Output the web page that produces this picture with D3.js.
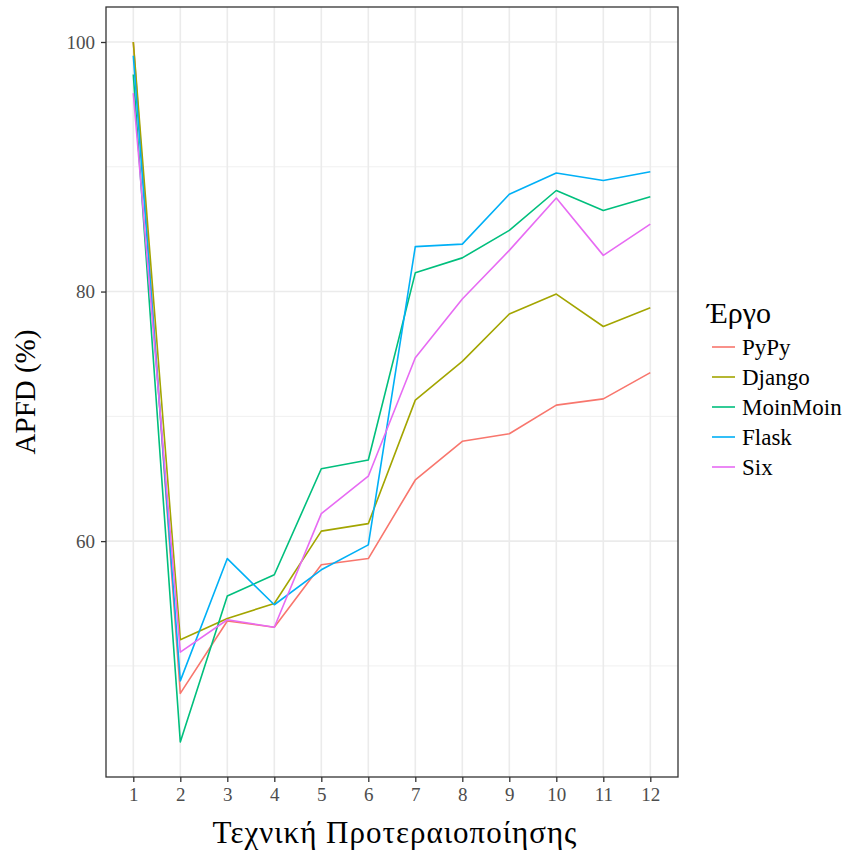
<!DOCTYPE html>
<html>
<head>
<meta charset="utf-8">
<script src="https://cdn.jsdelivr.net/npm/d3@7"></script>
<style>
  body { margin: 0; background: #fff; }
  svg text { font-family: "Liberation Serif", "DejaVu Serif", serif; }
</style>
</head>
<body>
<svg id="chart" width="847" height="852"></svg>
<script>
// Prioritisation technique index (x axis)
const techniques = [1, 2, 3, 4, 5, 6, 7, 8, 9, 10, 11, 12];

// APFD (%) per project
const projects = ["PyPy", "Django", "MoinMoin", "Flask", "Six"];
const pypy     = [100, 47.8, 53.6, 53.1, 58.1, 58.6, 64.9, 68.0, 68.6, 70.9, 71.4, 73.5];
const django   = [100, 52.1, 53.8, 55.0, 60.8, 61.4, 71.3, 74.4, 78.2, 79.8, 77.2, 78.7];
const moinmoin = [97.4, 43.9, 55.6, 57.3, 65.8, 66.5, 81.5, 82.7, 84.9, 88.1, 86.5, 87.6];
const flask    = [98.9, 48.8, 58.6, 54.9, 57.7, 59.7, 83.6, 83.8, 87.8, 89.5, 88.9, 89.6];
const six      = [95.9, 51.1, 53.7, 53.1, 62.2, 65.2, 74.7, 79.4, 83.3, 87.5, 82.9, 85.4];

const yTicks = [60, 80, 100];
const yMinor = [50, 70, 90];
const colors = ["#F8766D", "#A3A500", "#00BF7D", "#00B0F6", "#E76BF3"];

const seriesValues = [pypy, django, moinmoin, flask, six];
const series = projects.map((name, i) => ({
  name,
  color: colors[i],
  points: techniques.map((t, j) => ({ x: t, y: seriesValues[i][j] }))
}));

const svg = d3.select("#chart");
const panel = { left: 106, right: 678, top: 7, bottom: 777 };

// ggplot-style 5% expansion of the data range
const allY = seriesValues.flat();
const yMin = d3.min(allY), yMax = d3.max(allY);
const ySpan = yMax - yMin;
const x = d3.scaleLinear()
  .domain([1, 12])
  .range([133.3, 650.3]);
const y = d3.scaleLinear()
  .domain([yMin - 0.05 * ySpan, yMax + 0.05 * ySpan])
  .range([panel.bottom, panel.top]);

const g = svg.append("g");

// grid
g.selectAll(".ymin").data(yMinor).enter().append("line")
  .attr("x1", panel.left).attr("x2", panel.right)
  .attr("y1", d => y(d)).attr("y2", d => y(d))
  .attr("stroke", "#f0f0f0").attr("stroke-width", 1);
g.selectAll(".ymaj").data(yTicks).enter().append("line")
  .attr("x1", panel.left).attr("x2", panel.right)
  .attr("y1", d => y(d)).attr("y2", d => y(d))
  .attr("stroke", "#ebebeb").attr("stroke-width", 1.6);
g.selectAll(".xmaj").data(techniques).enter().append("line")
  .attr("x1", d => x(d)).attr("x2", d => x(d))
  .attr("y1", panel.top).attr("y2", panel.bottom)
  .attr("stroke", "#ebebeb").attr("stroke-width", 1.6);

// lines
const line = d3.line().x(d => x(d.x)).y(d => y(d.y));
g.selectAll(".series").data(series).enter().append("path")
  .attr("d", d => line(d.points))
  .attr("fill", "none")
  .attr("stroke", d => d.color)
  .attr("stroke-width", 1.6)
  .attr("stroke-linejoin", "round");

// panel border
g.append("rect")
  .attr("x", panel.left).attr("y", panel.top)
  .attr("width", panel.right - panel.left).attr("height", panel.bottom - panel.top)
  .attr("fill", "none").attr("stroke", "#333333").attr("stroke-width", 1.3);

// axes
const xAxis = d3.axisBottom(x).tickValues(techniques).tickSize(5).tickPadding(6);
const yAxis = d3.axisLeft(y).tickValues(yTicks).tickSize(5).tickPadding(6);

const gx = svg.append("g").attr("transform", `translate(0,${panel.bottom})`).call(xAxis);
const gy = svg.append("g").attr("transform", `translate(${panel.left},0)`).call(yAxis);
[gx, gy].forEach(a => {
  a.select(".domain").remove();
  a.selectAll(".tick line").attr("stroke", "#333333").attr("stroke-width", 1.3);
  a.selectAll(".tick text").attr("fill", "#4d4d4d").style("font-size", "19px");
});

// axis titles
svg.append("text")
  .attr("x", 395).attr("y", 843)
  .attr("text-anchor", "middle")
  .style("font-size", "31px").style("letter-spacing", "1px").attr("fill", "#000")
  .text("Τεχνική Προτεραιοποίησης");
svg.append("text")
  .attr("transform", `translate(35,${(panel.top + panel.bottom) / 2}) rotate(-90)`)
  .attr("text-anchor", "middle")
  .style("font-size", "29px").attr("fill", "#000")
  .text("APFD (%)");

// legend
const legend = svg.append("g").attr("transform", "translate(707,0)");
legend.append("text")
  .attr("x", 0).attr("y", 323)
  .style("font-size", "30px").attr("fill", "#000")
  .text("Έργο");
const item = legend.selectAll(".item").data(series).enter().append("g")
  .attr("transform", (d, i) => `translate(0,${347 + i * 30})`);
item.append("line")
  .attr("x1", 5).attr("x2", 28).attr("y1", 0).attr("y2", 0)
  .attr("stroke", d => d.color).attr("stroke-width", 1.6);
item.append("text")
  .attr("x", 35).attr("y", 7.5)
  .style("font-size", "23px").attr("fill", "#000")
  .text(d => d.name);
</script>
</body>
</html>
